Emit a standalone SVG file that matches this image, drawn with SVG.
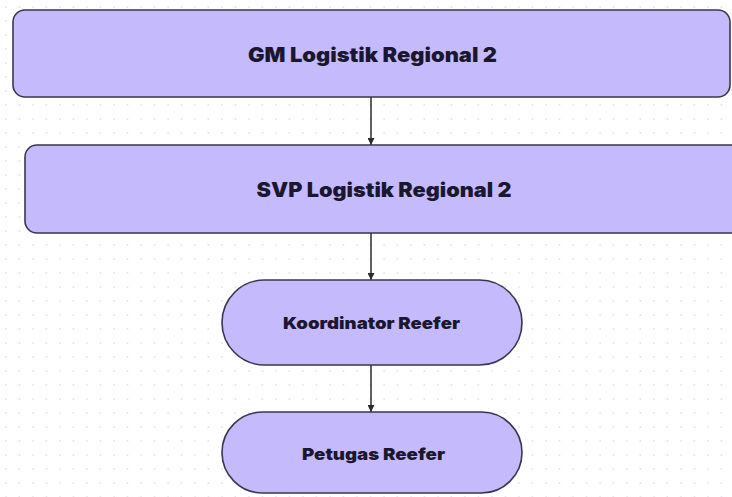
<svg xmlns="http://www.w3.org/2000/svg" width="732" height="497" viewBox="0 0 732 497">
<style>
.node{fill:#c5bbfc;stroke:#3b3650;stroke-width:1.6}
.lbl{font-family:Inter,"Liberation Sans",sans-serif;font-weight:900;fill:#1b1730;text-anchor:middle;dominant-baseline:central}
.big{font-size:20px}
.small{font-size:16.5px}
.edge{stroke:#2b2b2b;stroke-width:1.5;fill:none;marker-end:url(#ah)}
</style>
<defs>
<pattern id="dots" width="13.5" height="14" patternUnits="userSpaceOnUse">
<circle cx="6" cy="7" r="0.9" fill="#e2e2e6"/>
</pattern>
<marker id="ah" viewBox="0 0 10 10" refX="10" refY="5" markerWidth="7" markerHeight="7" markerUnits="userSpaceOnUse" orient="auto">
<path d="M0,0 L10,5 L0,10 z" fill="#2b2b2b"/>
</marker>
</defs>
<rect width="732" height="497" fill="#ffffff"/>
<rect width="732" height="497" fill="url(#dots)"/>
<g id="connectors">
<line class="edge" x1="371" y1="97" x2="371" y2="145"/>
<line class="edge" x1="371" y1="233" x2="371" y2="280"/>
<line class="edge" x1="371" y1="365" x2="371" y2="412"/>
</g>
<g id="gm">
<rect class="node" x="13" y="10" width="717" height="87" rx="12"/>
<text class="lbl big" x="372.5" y="55" textLength="249" lengthAdjust="spacingAndGlyphs">GM Logistik Regional 2</text>
</g>
<g id="svp">
<rect class="node" x="25" y="145" width="722" height="88" rx="12"/>
<text class="lbl big" x="384" y="190" textLength="255" lengthAdjust="spacingAndGlyphs">SVP Logistik Regional 2</text>
</g>
<g id="koordinator">
<rect class="node" x="222" y="280" width="300" height="85" rx="42.5"/>
<text class="lbl small" x="371.5" y="323" textLength="177" lengthAdjust="spacingAndGlyphs">Koordinator Reefer</text>
</g>
<g id="petugas">
<rect class="node" x="222" y="412" width="300" height="81" rx="40.5"/>
<text class="lbl small" x="373.5" y="454" textLength="143" lengthAdjust="spacingAndGlyphs">Petugas Reefer</text>
</g>
</svg>
